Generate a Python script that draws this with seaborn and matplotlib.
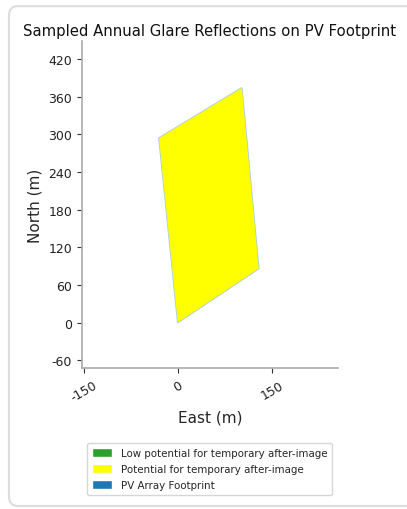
import matplotlib
matplotlib.use("Agg")
import matplotlib.pyplot as plt
import seaborn as sns
from matplotlib.patches import Patch, FancyBboxPatch

# footprint corners (east, north) in metres
EAST = [0, 129, 102, -30]
NORTH = [0, 86, 374, 294]

X_TICKS = [-150, 0, 150]
Y_TICKS = [-60, 0, 60, 120, 180, 240, 300, 360, 420]

LEGEND_LABELS = [
    "Low potential for temporary after-image",
    "Potential for temporary after-image",
    "PV Array Footprint",
]
LEGEND_COLORS = ["#2ca02c", "#ffff00", "#1f77b4"]

sns.set_style("ticks")
plt.rcParams["axes.unicode_minus"] = False
fig = plt.figure(figsize=(4.07, 5.10), dpi=100)

# light rounded frame around the whole figure
frame = FancyBboxPatch((0.022, 0.006), 1.1, 0.98, boxstyle="round,pad=0,rounding_size=0.02",
                       transform=fig.transFigure, facecolor="white", edgecolor="#dddddd",
                       linewidth=1.5, zorder=-1)
fig.patches.append(frame)

ax = fig.add_axes([0.201, 0.2745, 0.629, 0.6435])
ax.fill(EAST, NORTH, facecolor=LEGEND_COLORS[2], edgecolor="#a8d0e6", linewidth=1.2)
ax.fill(EAST, NORTH, facecolor="#ffff00", edgecolor="none")

ax.set_xlim(-153, 255)
ax.set_ylim(-73, 448)
ax.set_aspect("equal", adjustable="box")
ax.set_xticks(X_TICKS)
ax.set_yticks(Y_TICKS)
ax.tick_params(axis="x", labelrotation=30, labelsize=9, colors="#333333")
ax.tick_params(axis="y", labelsize=9, colors="#333333")
for lab in ax.get_xticklabels():
    lab.set_color("#222222")
for lab in ax.get_yticklabels():
    lab.set_color("#222222")
sns.despine(ax=ax)
for side in ["left", "bottom"]:
    ax.spines[side].set_color("#aaaaaa")
    ax.spines[side].set_linewidth(1.2)

ax.set_xlabel("East (m)", fontsize=11)
ax.set_ylabel("North (m)", fontsize=11)
ax.set_title("Sampled Annual Glare Reflections on PV Footprint", fontsize=10.7, pad=5,
             color="#111111")

handles = [Patch(facecolor=c, label=l) for c, l in zip(LEGEND_COLORS, LEGEND_LABELS)]
fig.legend(handles=handles, loc="upper center", bbox_to_anchor=(0.515, 0.139),
           fontsize=7.4, frameon=True, handlelength=2.0, handleheight=0.9,
           borderpad=0.45, labelspacing=0.6, handletextpad=0.8)

fig.savefig("out.png", dpi=100)
